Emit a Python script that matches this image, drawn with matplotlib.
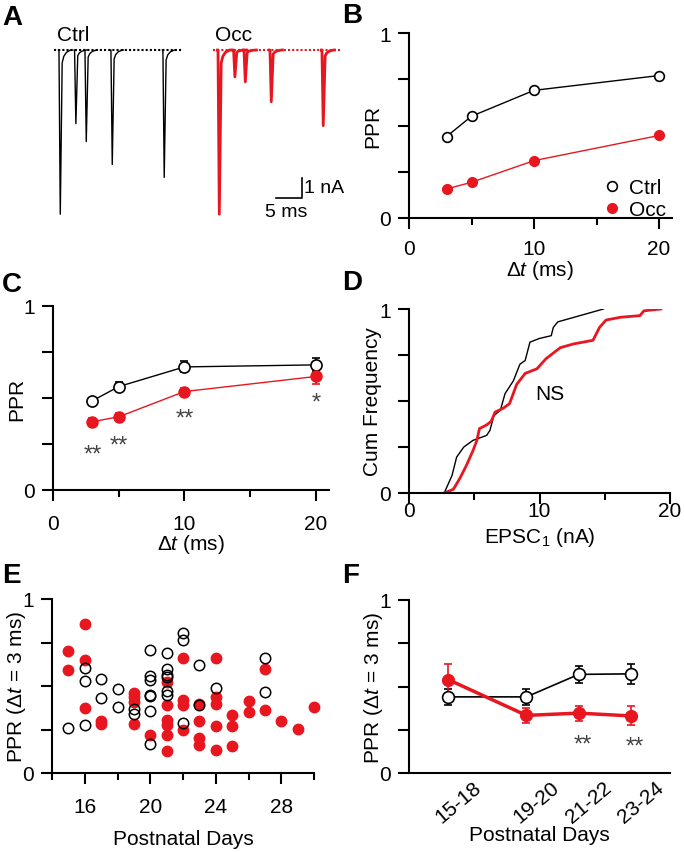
import numpy as np
import matplotlib
matplotlib.use('Agg')
import matplotlib.pyplot as plt
import matplotlib.transforms as mtransforms
from matplotlib.lines import Line2D

plt.rcParams['font.family'] = ['Liberation Sans', 'DejaVu Sans']
plt.rcParams['mathtext.fontset'] = 'custom'
plt.rcParams['mathtext.rm'] = 'Liberation Sans'
plt.rcParams['mathtext.it'] = 'Liberation Sans:italic'
plt.rcParams['mathtext.default'] = 'regular'
plt.rcParams['font.size'] = 15

RED = '#e8161f'
DT_LABEL = r'Δ$\mathit{t}$ (ms)'
PPR3_LABEL = r'PPR (Δ$\mathit{t}$ = 3 ms)'

### A: example traces (nA, ms)
intervals = [3, 5, 10, 20]
ctrl_epsc1 = 8.25
ctrl_epsc2 = [3.7, 4.6, 5.75, 6.4]
occ_epsc1 = 8.25
occ_epsc2 = [1.35, 1.6, 2.6, 3.8]
# normalised EPSC waveform
epsc_t = [0.0, 0.25, 0.6, 0.9, 1.4, 2.2]
epsc_v = [0.0, -1.0, -0.08, -0.04, -0.015, 0.0]

### B: example cell
dt = [3, 5, 10, 20]
b_ctrl = [0.44, 0.55, 0.69, 0.77]
b_occ = [0.157, 0.193, 0.31, 0.446]

### C: group PPR
c_ctrl = [0.485, 0.562, 0.669, 0.68]
c_ctrl_err = [0.015, 0.025, 0.03, 0.035]
c_occ = [0.371, 0.398, 0.535, 0.617]
c_occ_err = [0.02, 0.02, 0.02, 0.04]
c_stars = ['**', '**', '**', '*']
c_star_y = [0.234, 0.286, 0.43, 0.52]

### D: cumulative EPSC1
d_ctrl_x = [2.7, 3.3, 3.65, 4.2, 4.9, 5.95, 6.2, 6.5, 7.0, 7.36, 8.0, 8.5, 8.9,
            9.27, 10.0, 10.9, 11.06, 11.4, 14.9]
d_ctrl_y = [0, 0.096, 0.195, 0.25, 0.286, 0.313, 0.34, 0.42, 0.45, 0.54, 0.61,
            0.70, 0.72, 0.82, 0.84, 0.855, 0.90, 0.93, 1.0]
d_occ_x = [2.7, 3.4, 3.9, 4.4, 4.9, 5.2, 5.4, 5.95, 6.3, 6.6, 7.2, 7.7, 8.25,
           8.9, 9.8, 10.5, 11.6, 12.6, 14.1, 14.6, 15.1, 16.2, 17.7, 18.0, 19.3]
d_occ_y = [0, 0.02, 0.08, 0.15, 0.23, 0.286, 0.35, 0.37, 0.39, 0.44, 0.46,
           0.485, 0.59, 0.65, 0.675, 0.73, 0.79, 0.81, 0.83, 0.90, 0.94, 0.955,
           0.964, 0.99, 1.0]

### E: PPR vs age, single cells
e_ctrl_day = [15, 16, 16, 16, 17, 17, 18, 18, 19, 19,
              20, 20, 20, 20, 20, 20, 20,
              21, 21, 21, 21, 21, 21, 22, 22, 22, 23, 23, 24, 27, 27]
e_ctrl_ppr = [0.258, 0.602, 0.528, 0.277, 0.541, 0.432, 0.484, 0.379, 0.369, 0.34,
              0.709, 0.56, 0.532, 0.449, 0.442, 0.354, 0.168,
              0.69, 0.598, 0.564, 0.551, 0.474, 0.449, 0.803, 0.767, 0.287,
              0.621, 0.388, 0.488, 0.66, 0.465]
e_occ_day = [15, 15, 16, 16, 16, 17, 17, 19, 19, 19, 19, 20,
             21, 21, 21, 21, 21, 21, 22, 22, 22, 22,
             23, 23, 23, 23, 24, 24, 24, 24, 24, 25, 25, 25, 26, 26,
             27, 27, 28, 29, 30]
e_occ_ppr = [0.704, 0.593, 0.857, 0.652, 0.375, 0.296, 0.283, 0.46, 0.436, 0.407, 0.283, 0.22,
             0.522, 0.392, 0.306, 0.273, 0.216, 0.126, 0.662, 0.417, 0.388, 0.245,
             0.398, 0.296, 0.2, 0.159, 0.662, 0.436, 0.398, 0.27, 0.134, 0.331, 0.27, 0.155,
             0.411, 0.35, 0.595, 0.36, 0.296, 0.254, 0.379]

### F: PPR vs age, grouped
f_groups = ['15-18', '19-20', '21-22', '23-24']
f_mean_age = [16.5, 19.5, 21.5, 23.5]
f_ctrl = [0.44, 0.44, 0.57, 0.573]
f_ctrl_err = [0.045, 0.045, 0.05, 0.058]
f_occ = [0.54, 0.333, 0.346, 0.33]
f_occ_err = [0.09, 0.045, 0.043, 0.055]
f_stars = ['', '', '**', '**']

W, H = 684, 853
fig = plt.figure(figsize=(W / 100, H / 100), dpi=100)


def ax_px(l, t, r, b):
    return fig.add_axes([l / W, 1 - b / H, (r - l) / W, (b - t) / H])


def style(ax, xmaj, xmin, xlim, xpad=9):
    for s in ['top', 'right']:
        ax.spines[s].set_visible(False)
    for s in ['left', 'bottom']:
        ax.spines[s].set_linewidth(1.5)
    ax.set_xlim(xlim)
    ax.set_ylim(0, 1)
    ax.set_xticks(xmaj)
    ax.set_xticks(xmin, minor=True)
    ax.set_yticks([0, 0.25, 0.5, 0.75, 1])
    ax.set_yticklabels(['0', '', '', '', '1'])
    ax.tick_params(which='major', length=8, width=1.5, labelsize=15)
    ax.tick_params(which='minor', length=5, width=1.5)
    ax.tick_params(axis='x', which='major', pad=xpad)
    ax.tick_params(axis='y', which='major', pad=5)


def stars(ax, x, y, s):
    ax.annotate(s, (x, y), xytext=(0, -10), textcoords='offset points',
                ha='center', va='baseline', fontsize=17, color='#444444')


def epsc(t, t0, amp):
    return amp * np.interp(t - t0, epsc_t, epsc_v, left=0, right=0)


### A
ax = ax_px(40, 20, 350, 225)
ax.set_xlim(-3.65, 56)
ax.set_ylim(-8.7, 1.55)
ax.axis('off')
occ_t0 = 30.6
for t0, amp1, amp2, col, lw in [(0, ctrl_epsc1, ctrl_epsc2, 'k', 1.0),
                                (occ_t0, occ_epsc1, occ_epsc2, RED, 2.0)]:
    ax.plot([t0 - 1.0, t0 + 23.8], [0, 0], color=col, lw=1.5, ls=(0, (1, 1)))
    t = np.linspace(t0 - 0.1, t0 + 2.4, 200)
    ax.plot(t, epsc(t, t0, amp1), color=col, lw=lw)
    for d, a in zip(intervals, amp2):
        t = np.linspace(t0 + d - 0.1, t0 + d + 2.4, 200)
        ax.plot(t, epsc(t, t0 + d, a), color=col, lw=lw)
ax.text(-0.4, 0.5, 'Ctrl', ha='left', va='baseline', fontsize=15)
ax.text(occ_t0 - 0.5, 0.5, 'Occ', ha='left', va='baseline', fontsize=15)
sb_x, sb_y = 46.7, -7.4
ax.plot([sb_x - 5, sb_x, sb_x], [sb_y, sb_y, sb_y + 1], color='k', lw=1.2)
ax.text(sb_x + 0.4, sb_y + 0.5, '1 nA', ha='left', va='center', fontsize=14)
ax.text(sb_x - 2.9, sb_y - 0.25, '5 ms', ha='center', va='top', fontsize=14)

### B
ax = ax_px(409, 34, 409 + 262.5, 219)
style(ax, [0, 10, 20], [5, 15], (0, 21), xpad=7)
ax.plot(dt, b_ctrl, 'k-', lw=1, marker='o', ms=7, mfc='white', mec='k', mew=1.2)
ax.plot(dt, b_occ, '-', color=RED, lw=1, marker='o', ms=7, mfc=RED, mec=RED)
ax.set_ylabel('PPR', labelpad=-2)
ax.set_xlabel(DT_LABEL, labelpad=0)
handles = [Line2D([], [], ls='none', marker='o', ms=7, mfc='white', mec='k', mew=1.2),
           Line2D([], [], ls='none', marker='o', ms=7, mfc=RED, mec=RED)]
ax.legend(handles, ['Ctrl', 'Occ'], loc='lower right', bbox_to_anchor=(1.01, -0.05),
          frameon=False, handlelength=0.8, handletextpad=0.4, labelspacing=0.15,
          borderaxespad=0, fontsize=15)

### C
ax = ax_px(53, 307, 53 + 276, 491)
style(ax, [0, 10, 20], [5, 15], (0, 21))
ax.errorbar(dt, c_ctrl, yerr=c_ctrl_err, fmt='-o', color='k', lw=1, ms=8,
            mfc='white', mec='k', mew=1.2, capsize=3, elinewidth=1.2, capthick=1.2)
ax.errorbar(dt, c_occ, yerr=c_occ_err, fmt='-o', color=RED, lw=1, ms=8,
            mfc=RED, mec=RED, capsize=3, elinewidth=1.2, capthick=1.2)
for x, y, s in zip(dt, c_star_y, c_stars):
    stars(ax, x, y, s)
ax.set_ylabel('PPR', labelpad=-2)
ax.set_xlabel(DT_LABEL, labelpad=-0.5)

### D
ax = ax_px(409, 310, 670, 494)
style(ax, [0, 10, 20], [5, 15], (0, 20), xpad=-2.5)
ax.plot(d_ctrl_x, d_ctrl_y, color='k', lw=1)
ax.plot(d_occ_x, d_occ_y, color=RED, lw=2)
ax.text(10.8, 0.54, 'NS', ha='center', va='center', fontsize=15)
ax.set_ylabel('Cum Frequency', labelpad=-2)
ax.set_xlabel(r'EPSC$_1$ (nA)', labelpad=4)

### E
ax = ax_px(52, 600, 314, 774)
style(ax, [16, 20, 24, 28], [14, 18, 22, 26, 30], (14, 30))
ax.plot(e_ctrl_day, e_ctrl_ppr, ls='none', marker='o', ms=7.5, mfc='none',
        mec='k', mew=1.1, clip_on=False, zorder=3)
ax.plot(e_occ_day, e_occ_ppr, ls='none', marker='o', ms=7.5, mfc=RED,
        mec=RED, clip_on=False, zorder=2)
ax.set_ylabel(PPR3_LABEL, labelpad=-4)
ax.set_xlabel('Postnatal Days', labelpad=10)

### F
ax = ax_px(409, 601, 670, 774)
style(ax, f_mean_age, [], (15, 25))
ax.errorbar(f_mean_age, f_ctrl, yerr=f_ctrl_err, fmt='-o', color='k', lw=1.2, ms=8.5,
            mfc='white', mec='k', mew=1.2, capsize=3, elinewidth=1.2, capthick=1.2)
ax.errorbar(f_mean_age, f_occ, yerr=f_occ_err, fmt='-o', color=RED, lw=2.5, ms=8.5,
            mfc=RED, mec=RED, capsize=3, elinewidth=1.2, capthick=1.2)
for x, y, s in zip(f_mean_age, [0.21, 0.21, 0.21, 0.2], f_stars):
    if s:
        stars(ax, x + 0.15, y, s)
ax.set_xticklabels(f_groups, rotation=40, ha='center')
ax.tick_params(axis='x', which='major', length=0, pad=3)
offset = mtransforms.ScaledTranslation(0.10, 0, fig.dpi_scale_trans)
for lab in ax.get_xticklabels():
    lab.set_transform(lab.get_transform() + offset)
ax.set_ylabel(PPR3_LABEL, labelpad=-4)
ax.set_xlabel('Postnatal Days', labelpad=-1)

### panel letters
for lab, x, y in [('A', 2, 25), ('B', 342, 23), ('C', 2, 292),
                  ('D', 342, 290), ('E', 2, 583), ('F', 342, 583)]:
    fig.text(x / W, 1 - y / H, lab, fontsize=20, fontweight='bold',
             ha='left', va='baseline')

fig.savefig('out.png', dpi=100)
